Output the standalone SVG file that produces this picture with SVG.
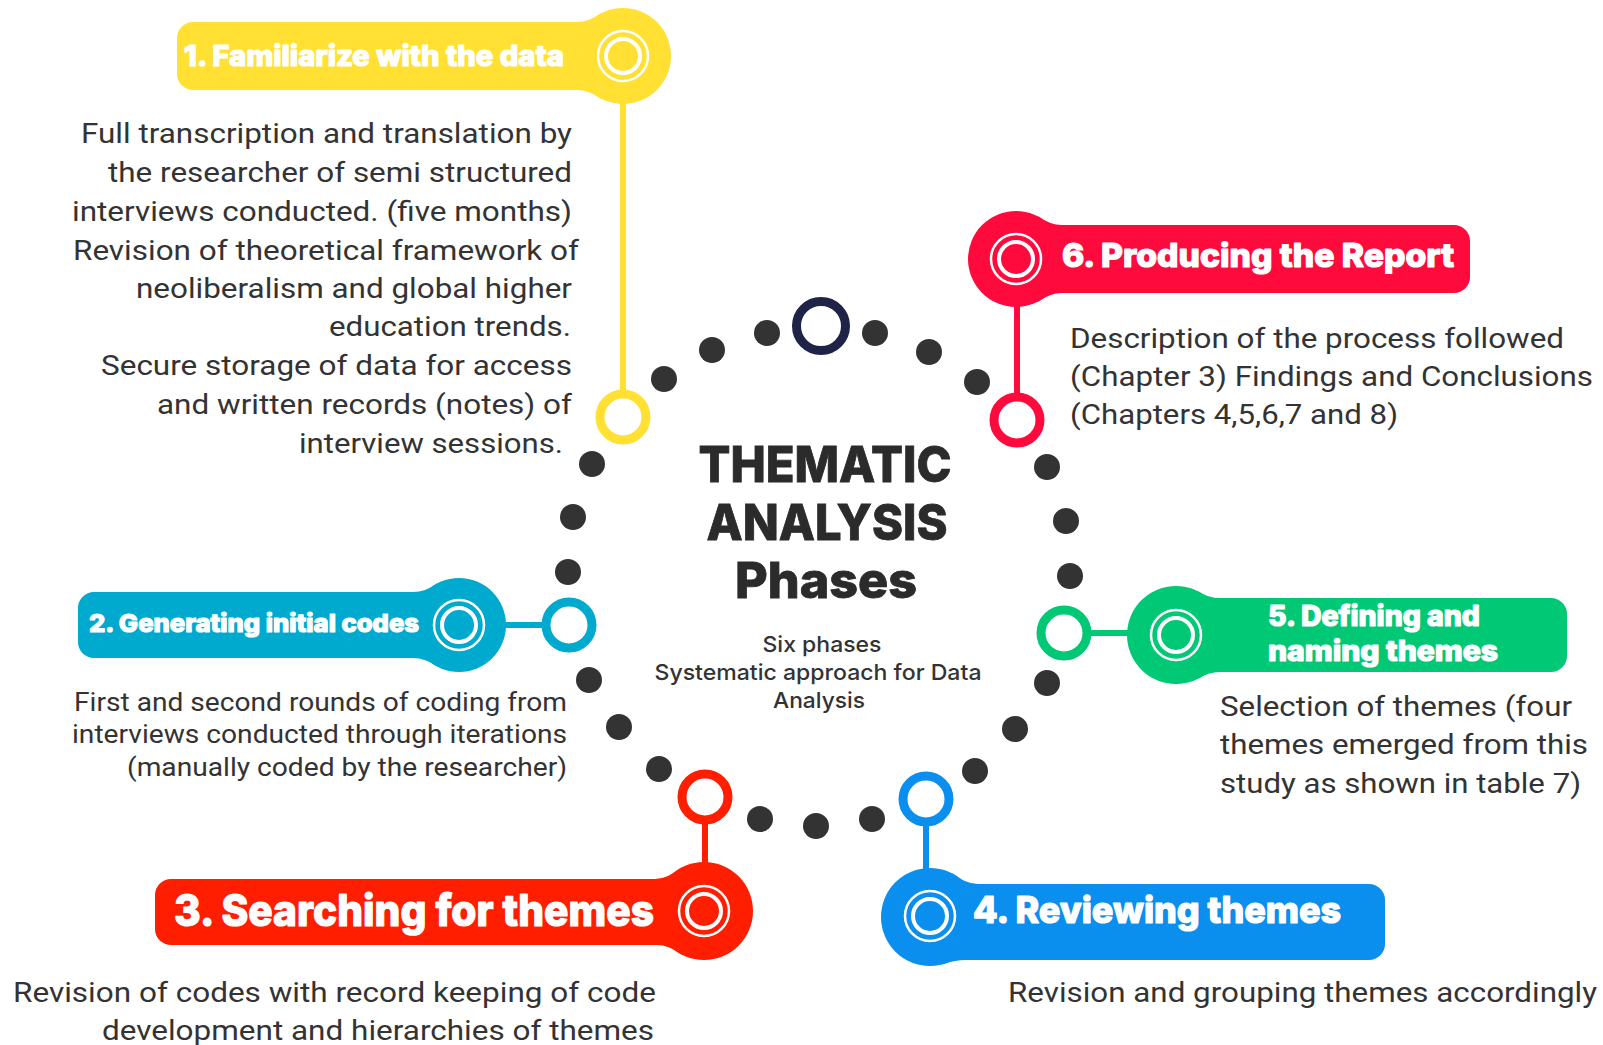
<svg xmlns="http://www.w3.org/2000/svg" width="1603" height="1045" viewBox="0 0 1603 1045">
  <style>
    .dot { fill: #333333; }
    .ring { fill: #ffffff; stroke-width: 9; }
    .stem { stroke-width: 6; fill: none; }
    .hole-a { fill: none; stroke: #ffffff; stroke-width: 2.5; }
    .hole-b { fill: none; stroke: #ffffff; stroke-width: 4; }
    .lbl { font-family: Inter, "Noto Sans", "Liberation Sans", sans-serif; font-weight: 800; fill: #ffffff; stroke: #ffffff; stroke-width: 1.2; stroke-linejoin: round; }
    .body { font-family: Roboto, "Liberation Sans", Arial, sans-serif; fill: #333333; }
    .title { font-family: Inter, "Noto Sans", "Liberation Sans", sans-serif; font-weight: 800; fill: #2b2b2b; stroke: #2b2b2b; stroke-width: 0.8; font-size: 50px; text-anchor: middle; }
    .sub { font-family: Inter, "Noto Sans", "Liberation Sans", sans-serif; font-weight: 500; fill: #333333; font-size: 22px; text-anchor: middle; }
    .yellow { fill: #FFE033; stroke: #FFE033; }
    .crimson { fill: #FF0A3C; stroke: #FF0A3C; }
    .cyan { fill: #00A9CE; stroke: #00A9CE; }
    .green { fill: #00C875; stroke: #00C875; }
    .orange { fill: #FF1E00; stroke: #FF1E00; }
    .blue { fill: #0A8FEE; stroke: #0A8FEE; }
  </style>

  <rect width="1603" height="1045" fill="#ffffff"/>

  <!-- dotted cycle linking the six phases -->
  <g id="connectors">
    <circle cx="821" cy="326" r="24.5" fill="none" stroke="#1F2347" stroke-width="9"/>
    <circle class="dot" cx="767" cy="333" r="13"/>
    <circle class="dot" cx="875" cy="333" r="13"/>
    <circle class="dot" cx="712" cy="350" r="13"/>
    <circle class="dot" cx="929" cy="352" r="13"/>
    <circle class="dot" cx="664" cy="379" r="13"/>
    <circle class="dot" cx="977" cy="382" r="13"/>
    <circle class="dot" cx="592" cy="464" r="13"/>
    <circle class="dot" cx="1047" cy="467" r="13"/>
    <circle class="dot" cx="573" cy="517" r="13"/>
    <circle class="dot" cx="1066" cy="521" r="13"/>
    <circle class="dot" cx="568" cy="572" r="13"/>
    <circle class="dot" cx="1070" cy="576" r="13"/>
    <circle class="dot" cx="589" cy="680" r="13"/>
    <circle class="dot" cx="1047" cy="683" r="13"/>
    <circle class="dot" cx="619" cy="727" r="13"/>
    <circle class="dot" cx="1015" cy="729" r="13"/>
    <circle class="dot" cx="659" cy="769" r="13"/>
    <circle class="dot" cx="975" cy="771" r="13"/>
    <circle class="dot" cx="760" cy="819" r="13"/>
    <circle class="dot" cx="816" cy="826" r="13"/>
    <circle class="dot" cx="872" cy="819" r="13"/>
  </g>

  <!-- centre title -->
  <g id="center">
    <text class="title" x="825" y="482" textLength="253" lengthAdjust="spacingAndGlyphs">THEMATIC</text>
    <text class="title" x="827" y="540" textLength="241" lengthAdjust="spacingAndGlyphs">ANALYSIS</text>
    <text class="title" x="826" y="598" textLength="182" lengthAdjust="spacingAndGlyphs">Phases</text>
    <text class="sub" x="822" y="652" textLength="119" lengthAdjust="spacingAndGlyphs">Six phases</text>
    <text class="sub" x="818" y="680" textLength="327" lengthAdjust="spacingAndGlyphs">Systematic approach for Data</text>
    <text class="sub" x="819" y="708" textLength="92" lengthAdjust="spacingAndGlyphs">Analysis</text>
  </g>

  <!-- phase 1 -->
  <g id="phase1" class="yellow">
    <line class="stem" x1="623" y1="100" x2="623" y2="400"/>
    <circle class="ring" cx="623" cy="417" r="23"/>
    <rect x="177" y="22" width="446" height="68" rx="16" stroke="none"/>
    <path d="M577,22 Q589,22 601,13.3 L623,56 L577,56 Z" stroke="none"/>
    <path d="M577,90 Q589,90 601,98.7 L623,56 L577,56 Z" stroke="none"/>
    <circle cx="623" cy="56" r="48" stroke="none"/>
    <circle class="hole-a" cx="623" cy="56" r="25"/>
    <circle class="hole-b" cx="623" cy="56" r="17"/>
    <text class="lbl" x="184" y="66" font-size="28" textLength="380" lengthAdjust="spacingAndGlyphs">1. Familiarize with the data</text>
    <g class="body" font-size="27" text-anchor="end" stroke="none">
      <text x="572" y="143" textLength="491" lengthAdjust="spacingAndGlyphs">Full transcription and translation by</text>
      <text x="572" y="182" textLength="464" lengthAdjust="spacingAndGlyphs">the researcher of semi structured</text>
      <text x="572" y="221" textLength="500" lengthAdjust="spacingAndGlyphs">interviews conducted. (five months)</text>
      <text x="579" y="260" textLength="506" lengthAdjust="spacingAndGlyphs">Revision of theoretical framework of</text>
      <text x="572" y="298" textLength="436" lengthAdjust="spacingAndGlyphs">neoliberalism and global higher</text>
      <text x="571" y="336" textLength="242" lengthAdjust="spacingAndGlyphs">education trends.</text>
      <text x="572" y="375" textLength="471" lengthAdjust="spacingAndGlyphs">Secure storage of data for access</text>
      <text x="572" y="414" textLength="415" lengthAdjust="spacingAndGlyphs">and written records (notes) of</text>
      <text x="563" y="453" textLength="264" lengthAdjust="spacingAndGlyphs">interview sessions.</text>
    </g>
  </g>

  <!-- phase 2 -->
  <g id="phase2" class="cyan">
    <line class="stem" x1="500" y1="625" x2="550" y2="625"/>
    <circle class="ring" cx="569" cy="625" r="23"/>
    <rect x="78" y="592" width="381" height="66" rx="16" stroke="none"/>
    <path d="M413,592 Q425.5,592 437,583.5 L459,625 L413,625 Z" stroke="none"/>
    <path d="M413,658 Q425.5,658 437,666.5 L459,625 L413,625 Z" stroke="none"/>
    <circle cx="459" cy="625" r="47" stroke="none"/>
    <circle class="hole-a" cx="459" cy="625" r="25"/>
    <circle class="hole-b" cx="459" cy="625" r="17"/>
    <text class="lbl" x="89" y="632" font-size="25" textLength="330" lengthAdjust="spacingAndGlyphs">2. Generating initial codes</text>
    <g class="body" font-size="25" text-anchor="end" stroke="none">
      <text x="567" y="711" textLength="493" lengthAdjust="spacingAndGlyphs">First and second rounds of coding from</text>
      <text x="567" y="743" textLength="495" lengthAdjust="spacingAndGlyphs">interviews conducted through iterations</text>
      <text x="567" y="776" textLength="440" lengthAdjust="spacingAndGlyphs">(manually coded by the researcher)</text>
    </g>
  </g>

  <!-- phase 3 -->
  <g id="phase3" class="orange">
    <line class="stem" x1="705" y1="815" x2="705" y2="870"/>
    <circle class="ring" cx="705" cy="797" r="23"/>
    <rect x="155" y="879" width="549" height="66" rx="16" stroke="none"/>
    <path d="M655,879 Q667,879 682,867.2 L704,911 L655,911 Z" stroke="none"/>
    <path d="M657,945 Q669,945 682,954.8 L704,911 L657,911 Z" stroke="none"/>
    <circle cx="704" cy="911" r="49" stroke="none"/>
    <circle class="hole-a" cx="704" cy="911" r="25"/>
    <circle class="hole-b" cx="704" cy="911" r="17"/>
    <text class="lbl" x="174" y="926" font-size="44" textLength="480" lengthAdjust="spacingAndGlyphs">3. Searching for themes</text>
    <g class="body" font-size="28" text-anchor="end" stroke="none">
      <text x="656" y="1002" textLength="643" lengthAdjust="spacingAndGlyphs">Revision of codes with record keeping of code</text>
      <text x="654" y="1040" textLength="552" lengthAdjust="spacingAndGlyphs">development and hierarchies of themes</text>
    </g>
  </g>

  <!-- phase 4 -->
  <g id="phase4" class="blue">
    <line class="stem" x1="926" y1="815" x2="926" y2="875"/>
    <circle class="ring" cx="926" cy="799" r="23"/>
    <rect x="930" y="884" width="455" height="76" rx="16" stroke="none"/>
    <path d="M978,884 Q966,884 952,873.2 L930,917 L978,917 Z" stroke="none"/>
    <path d="M966,960 Q953.5,960 942,964.5 L930,917 L966,917 Z" stroke="none"/>
    <circle cx="930" cy="917" r="49" stroke="none"/>
    <circle class="hole-a" cx="930" cy="916" r="25"/>
    <circle class="hole-b" cx="930" cy="916" r="17"/>
    <text class="lbl" x="973" y="923" font-size="37" textLength="368" lengthAdjust="spacingAndGlyphs">4. Reviewing themes</text>
    <g class="body" font-size="28" stroke="none">
      <text x="1008" y="1002" textLength="589" lengthAdjust="spacingAndGlyphs">Revision and grouping themes accordingly</text>
    </g>
  </g>

  <!-- phase 5 -->
  <g id="phase5" class="green">
    <line class="stem" x1="1085" y1="633" x2="1135" y2="633"/>
    <circle class="ring" cx="1064" cy="633" r="23"/>
    <rect x="1176" y="598" width="391" height="74" rx="16" stroke="none"/>
    <path d="M1220,598 Q1208,598 1198,591.2 L1176,635 L1220,635 Z" stroke="none"/>
    <path d="M1220,672 Q1208,672 1198,678.8 L1176,635 L1220,635 Z" stroke="none"/>
    <circle cx="1176" cy="635" r="49" stroke="none"/>
    <circle class="hole-a" cx="1176" cy="635" r="25"/>
    <circle class="hole-b" cx="1176" cy="635" r="17"/>
    <text class="lbl" x="1268" y="626" font-size="28" textLength="212" lengthAdjust="spacingAndGlyphs">5. Defining and</text>
    <text class="lbl" x="1268" y="661" font-size="28" textLength="230" lengthAdjust="spacingAndGlyphs">naming themes</text>
    <g class="body" font-size="28" stroke="none">
      <text x="1220" y="716" textLength="352" lengthAdjust="spacingAndGlyphs">Selection of themes (four</text>
      <text x="1220" y="754" textLength="368" lengthAdjust="spacingAndGlyphs">themes emerged from this</text>
      <text x="1220" y="793" textLength="361" lengthAdjust="spacingAndGlyphs">study as shown in table 7)</text>
    </g>
  </g>

  <!-- phase 6 -->
  <g id="phase6" class="crimson">
    <line class="stem" x1="1017" y1="300" x2="1017" y2="400"/>
    <circle class="ring" cx="1017" cy="420" r="23"/>
    <rect x="1016" y="225" width="454" height="68" rx="16" stroke="none"/>
    <path d="M1062,225 Q1050,225 1038,216.3 L1016,259 L1062,259 Z" stroke="none"/>
    <path d="M1062,293 Q1050,293 1038,301.7 L1016,259 L1062,259 Z" stroke="none"/>
    <circle cx="1016" cy="259" r="48" stroke="none"/>
    <circle class="hole-a" cx="1016" cy="259" r="25"/>
    <circle class="hole-b" cx="1016" cy="259" r="17"/>
    <text class="lbl" x="1062" y="267" font-size="33" textLength="392" lengthAdjust="spacingAndGlyphs">6. Producing the Report</text>
    <g class="body" font-size="28" stroke="none">
      <text x="1070" y="348" textLength="494" lengthAdjust="spacingAndGlyphs">Description of the process followed</text>
      <text x="1070" y="386" textLength="523" lengthAdjust="spacingAndGlyphs">(Chapter 3) Findings and Conclusions</text>
      <text x="1070" y="424" textLength="328" lengthAdjust="spacingAndGlyphs">(Chapters 4,5,6,7 and 8)</text>
    </g>
  </g>
</svg>
